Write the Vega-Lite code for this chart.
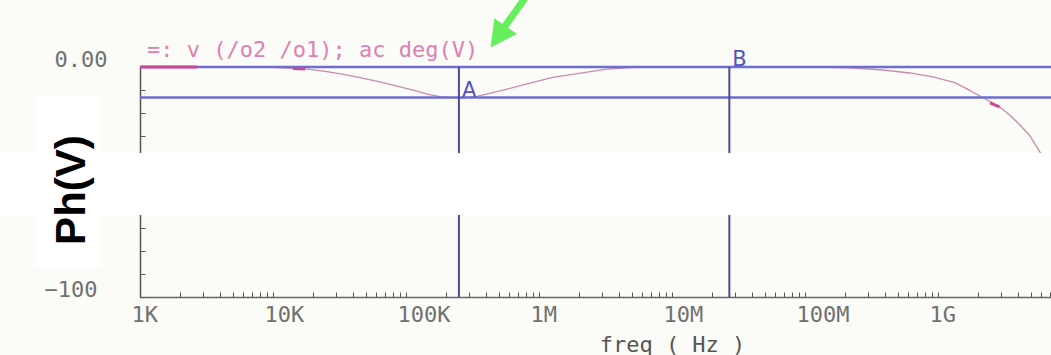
{
  "$schema": "https://vega.github.io/schema/vega-lite/v6.json",
  "width": 911,
  "height": 230,
  "autosize": "none",
  "padding": {"left": 140, "top": 67, "right": 0, "bottom": 58},
  "background": "#fbfcf8",
  "config": {"view": {"stroke": null}},
  "datasets": {
    "phase": [
      {"freq": 1000, "value": 0},
      {"freq": 2680, "value": 0},
      {"freq": 9010, "value": 0},
      {"freq": 14100, "value": -0.6},
      {"freq": 19000, "value": -1.0},
      {"freq": 25500, "value": -2.0},
      {"freq": 34800, "value": -3.3},
      {"freq": 45100, "value": -4.6},
      {"freq": 63800, "value": -6.5},
      {"freq": 90200, "value": -8.6},
      {"freq": 117000, "value": -10.3},
      {"freq": 144000, "value": -11.8},
      {"freq": 180000, "value": -12.9},
      {"freq": 222000, "value": -13.3},
      {"freq": 264000, "value": -13.4},
      {"freq": 342000, "value": -12.8},
      {"freq": 509000, "value": -10.4},
      {"freq": 855000, "value": -7.0},
      {"freq": 1270000, "value": -4.5},
      {"freq": 2300000, "value": -2.2},
      {"freq": 3240000, "value": -0.9},
      {"freq": 4830000, "value": -0.3},
      {"freq": 7200000, "value": 0},
      {"freq": 29800000, "value": 0},
      {"freq": 123000000, "value": 0},
      {"freq": 218000000, "value": -0.4},
      {"freq": 386000000, "value": -1.3},
      {"freq": 615000000, "value": -2.6},
      {"freq": 916000000, "value": -4.3},
      {"freq": 1340000000, "value": -6.8},
      {"freq": 1650000000, "value": -9.5},
      {"freq": 2070000000, "value": -12.6},
      {"freq": 2460000000, "value": -15.0},
      {"freq": 2920000000, "value": -17.4},
      {"freq": 3480000000, "value": -21.0},
      {"freq": 4140000000, "value": -25.2},
      {"freq": 4920000000, "value": -30.0},
      {"freq": 5850000000, "value": -37.0},
      {"freq": 6380000000, "value": -41.0},
      {"freq": 7000000000, "value": -50.0}
    ],
    "traceSymbols": [
      {"seg": 1, "freq": 1000, "value": 0},
      {"seg": 1, "freq": 2680, "value": 0},
      {"seg": 2, "freq": 14100, "value": -0.6},
      {"seg": 2, "freq": 17400, "value": -0.9},
      {"seg": 3, "freq": 2460000000, "value": -15.6},
      {"seg": 3, "freq": 2900000000, "value": -17.3}
    ],
    "markers": [
      {"freq": 250000, "name": "A", "labelValue": -13.4},
      {"freq": 27000000, "name": "B", "labelValue": 0}
    ],
    "levels": [{"value": 0}, {"value": -13.3}],
    "traceTitle": [{"freq": 1129, "value": 4.3, "text": "=: v (/o2 /o1); ac deg(V)"}],
    "band": [{"x0": 50, "x1": 10000000000, "y0": -37.4, "y1": -64.3}],
    "titleBox": [{"x0": 162, "x1": 500, "y0": -12.2, "y1": -87.0}],
    "yTitle": [{"freq": 308, "value": -53.5, "text": "Ph(V)"}],
    "arrowShaft": [
      {"freq": 855000, "value": 33.0},
      {"freq": 550000, "value": 17.4}
    ],
    "arrowHead": [{"freq": 509000, "value": 14.3}]
  },
  "layer": [
    {
      "data": {"name": "phase"},
      "mark": {"type": "line", "color": "#c98aad", "strokeWidth": 1.3, "clip": true},
      "encoding": {
        "x": {
          "field": "freq",
          "type": "quantitative",
          "scale": {"type": "log", "domain": [1000, 7080000000], "nice": false},
          "axis": {
            "values": [1000, 2000, 3000, 4000, 5000, 6000, 7000, 8000, 9000,
                       10000, 20000, 30000, 40000, 50000, 60000, 70000, 80000, 90000,
                       100000, 200000, 300000, 400000, 500000, 600000, 700000, 800000, 900000,
                       1000000, 2000000, 3000000, 4000000, 5000000, 6000000, 7000000, 8000000, 9000000,
                       10000000, 20000000, 30000000, 40000000, 50000000, 60000000, 70000000, 80000000, 90000000,
                       100000000, 200000000, 300000000, 400000000, 500000000, 600000000, 700000000, 800000000, 900000000,
                       1000000000, 2000000000, 3000000000, 4000000000, 5000000000, 6000000000, 7000000000],
            "labelExpr": "datum.value == 1000 ? '1K' : datum.value == 10000 ? '10K' : datum.value == 100000 ? '100K' : datum.value == 1000000 ? '1M' : datum.value == 10000000 ? '10M' : datum.value == 100000000 ? '100M' : datum.value == 1000000000 ? '1G' : ''",
            "title": "freq ( Hz )",
            "titleX": 532,
            "titleY": 54,
            "titleAlign": "center",
            "titleBaseline": "alphabetic",
            "titleFont": "DejaVu Sans Mono",
            "titleFontSize": 22,
            "titleFontWeight": "normal",
            "titleColor": "#555555",
            "labelFont": "DejaVu Sans Mono",
            "labelFontSize": 22,
            "labelColor": "#707070",
            "labelAlign": "left",
            "labelBaseline": "top",
            "labelOffset": -9,
            "labelPadding": 12,
            "labelFlush": false,
            "labelOverlap": false,
            "labelBound": false,
            "tickSize": -5,
            "tickColor": "#555555",
            "tickWidth": 1,
            "domainColor": "#666666",
            "domainWidth": 1.5,
            "grid": false,
            "zindex": 0
          }
        },
        "y": {
          "field": "value",
          "type": "quantitative",
          "scale": {"domain": [-100, 0], "nice": false, "zero": false},
          "axis": {
            "values": [-100, -95, -90, -85, -80, -75, -70, -65, -60, -55, -50, -45, -40, -35, -30, -25, -20, -15, -10, -5, 0],
            "tickCount": 20,
            "labelExpr": "datum.value == 0 ? '0.00' : datum.value == -100 ? '−100' : ''",
            "title": null,
            "labelFont": "DejaVu Sans Mono",
            "labelFontSize": 22,
            "labelColor": "#707070",
            "labelAlign": "right",
            "labelBaseline": "alphabetic",
            "labelPadding": {"condition": {"test": "datum.value == 0", "value": 38}, "value": 48},
            "labelOffset": -1,
            "labelFlush": false,
            "labelOverlap": false,
            "labelBound": false,
            "tickSize": -5,
            "tickColor": "#555555",
            "tickWidth": 1,
            "domainColor": "#555555",
            "domainWidth": 1.5,
            "grid": false,
            "zindex": 0
          }
        }
      }
    },
    {
      "data": {"name": "levels"},
      "mark": {"type": "rule", "color": "#6e6ed2", "strokeWidth": 2.5},
      "encoding": {"y": {"field": "value", "type": "quantitative"}}
    },
    {
      "data": {"name": "markers"},
      "mark": {"type": "rule", "color": "#4a4a96", "strokeWidth": 2},
      "encoding": {"x": {"field": "freq", "type": "quantitative"}}
    },
    {
      "data": {"name": "traceSymbols"},
      "mark": {"type": "line", "color": "#c8489a", "strokeWidth": 3},
      "encoding": {
        "x": {"field": "freq", "type": "quantitative"},
        "y": {"field": "value", "type": "quantitative"},
        "detail": {"field": "seg", "type": "nominal"}
      }
    },
    {
      "data": {"name": "markers"},
      "mark": {"type": "text", "align": "left", "baseline": "alphabetic", "dx": 3, "dy": -1, "font": "DejaVu Sans", "fontSize": 21, "color": "#5252c4"},
      "encoding": {
        "x": {"field": "freq", "type": "quantitative"},
        "y": {"field": "labelValue", "type": "quantitative"},
        "text": {"field": "name"}
      }
    },
    {
      "data": {"name": "traceTitle"},
      "mark": {"type": "text", "align": "left", "baseline": "alphabetic", "font": "DejaVu Sans Mono", "fontSize": 22, "color": "#dd80b4", "clip": false},
      "encoding": {
        "x": {"field": "freq", "type": "quantitative"},
        "y": {"field": "value", "type": "quantitative"},
        "text": {"field": "text"}
      }
    },
    {
      "data": {"name": "band"},
      "mark": {"type": "rect", "color": "#ffffff", "clip": false},
      "encoding": {
        "x": {"field": "x0", "type": "quantitative"},
        "x2": {"field": "x1"},
        "y": {"field": "y0", "type": "quantitative"},
        "y2": {"field": "y1"}
      }
    },
    {
      "data": {"name": "titleBox"},
      "mark": {"type": "rect", "color": "#ffffff", "clip": false},
      "encoding": {
        "x": {"field": "x0", "type": "quantitative"},
        "x2": {"field": "x1"},
        "y": {"field": "y0", "type": "quantitative"},
        "y2": {"field": "y1"}
      }
    },
    {
      "data": {"name": "yTitle"},
      "mark": {"type": "text", "angle": 270, "align": "center", "baseline": "middle", "font": "Liberation Sans", "fontWeight": "bold", "fontSize": 42, "color": "#000000", "clip": false},
      "encoding": {
        "x": {"field": "freq", "type": "quantitative"},
        "y": {"field": "value", "type": "quantitative"},
        "text": {"field": "text"}
      }
    },
    {
      "data": {"name": "arrowShaft"},
      "mark": {"type": "line", "color": "#66ee5e", "strokeWidth": 7, "clip": false},
      "encoding": {
        "x": {"field": "freq", "type": "quantitative"},
        "y": {"field": "value", "type": "quantitative"}
      }
    },
    {
      "data": {"name": "arrowHead"},
      "mark": {"type": "point", "shape": "M0,1L-0.85,-0.6L0.85,-0.6Z", "filled": true, "opacity": 1, "color": "#66ee5e", "size": 1056, "angle": 35, "clip": false},
      "encoding": {
        "x": {"field": "freq", "type": "quantitative"},
        "y": {"field": "value", "type": "quantitative"}
      }
    }
  ]
}
